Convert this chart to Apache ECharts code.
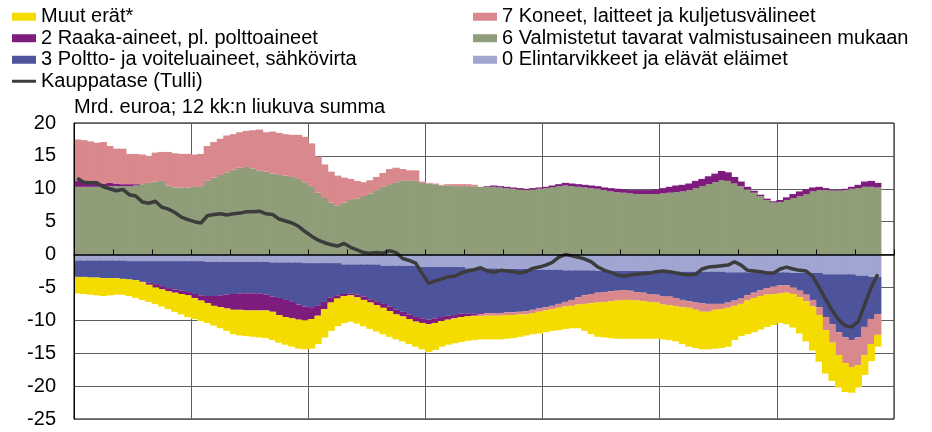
<!DOCTYPE html>
<html>
<head>
<meta charset="utf-8">
<script src="https://cdn.jsdelivr.net/npm/echarts@6/dist/echarts.min.js"></script>
<style>
  html, body { margin: 0; padding: 0; background: #fff; }
  #chart { width: 932px; height: 432px; }
</style>
</head>
<body>
<div id="chart"></div>
<script>
// kahden kuukauden välein, 2003/01 ... 2023/11 (viimeiset kaksi tyhjiä)
const categories = []
for (let y = 2003; y <= 2023; y++) {
    for (let m = 1; m <= 12; m += 2) {
        categories.push(y + '/' + (m < 10 ? '0' + m : m))
    }
}

const elintarvikkeet = [
    -0.9,-0.9,-0.9,-0.9,-0.9,-0.9,-0.9,-0.9,-1.0,-1.0,
    -1.0,-1.0,-1.0,-1.0,-1.0,-1.0,-1.0,-1.0,-1.0,-1.0,
    -1.1,-1.1,-1.1,-1.1,-1.1,-1.1,-1.1,-1.1,-1.1,-1.1,
    -1.2,-1.2,-1.2,-1.2,-1.2,-1.3,-1.3,-1.3,-1.3,-1.3,
    -1.3,-1.5,-1.5,-1.5,-1.5,-1.5,-1.5,-1.7,-1.7,-1.7,
    -1.7,-1.7,-1.7,-1.9,-1.9,-1.9,-1.9,-1.9,-1.9,-1.9,
    -2.1,-2.1,-2.1,-2.1,-2.1,-2.2,-2.2,-2.2,-2.2,-2.2,
    -2.3,-2.3,-2.3,-2.3,-2.3,-2.4,-2.4,-2.4,-2.4,-2.4,
    -2.5,-2.5,-2.5,-2.5,-2.5,-2.5,-2.5,-2.5,-2.5,-2.5,
    -2.6,-2.6,-2.6,-2.6,-2.6,-2.6,-2.6,-2.6,-2.6,-2.6,
    -2.7,-2.7,-2.7,-2.7,-2.7,-2.7,-2.7,-2.7,-2.7,-2.7,
    -2.8,-2.8,-2.8,-2.8,-2.8,-3.0,-3.0,-3.0,-3.0,-3.0,
    -3.2,-3.2,-3.4,-3.4
]

const polttoaineet = [
    -2.5,-2.5,-2.6,-2.6,-2.7,-2.7,-2.7,-2.8,-2.8,-2.9,
    -3.1,-3.3,-3.5,-3.8,-4.1,-4.3,-4.5,-4.7,-5.0,-5.2,
    -5.2,-5.2,-5.1,-5.0,-4.9,-4.8,-4.8,-4.8,-4.8,-5.0,
    -5.2,-5.4,-5.7,-6.0,-6.4,-6.6,-6.7,-6.5,-5.9,-5.2,
    -4.9,-4.5,-4.4,-4.6,-4.9,-5.3,-5.6,-5.8,-6.2,-6.7,
    -7.0,-7.4,-7.8,-7.8,-8.0,-7.8,-7.6,-7.4,-7.3,-7.1,
    -6.9,-6.9,-6.8,-6.8,-6.8,-6.7,-6.6,-6.6,-6.5,-6.4,
    -6.1,-5.9,-5.7,-5.5,-5.2,-4.8,-4.5,-4.1,-3.8,-3.6,
    -3.3,-3.2,-3.1,-3.0,-2.9,-3.0,-3.2,-3.3,-3.5,-3.6,
    -3.7,-3.8,-4.0,-4.3,-4.5,-4.7,-4.8,-4.9,-4.9,-4.9,
    -4.6,-4.3,-4.0,-3.5,-3.1,-2.7,-2.4,-2.2,-2.0,-2.0,
    -2.2,-2.7,-3.3,-4.1,-5.2,-6.5,-7.6,-8.8,-9.6,-10.0,
    -9.4,-7.8,-6.4,-5.7
]

const valmistetut = [
    10.3,10.3,10.3,10.3,10.3,10.4,10.4,10.4,10.4,10.5,
    10.7,10.9,11.1,11.2,10.5,10.2,10.2,10.2,10.3,10.4,
    11.2,11.7,12.1,12.5,12.9,13.2,13.3,13.1,12.8,12.6,
    12.3,12.1,12.0,11.8,11.5,11.0,10.4,9.4,8.6,7.9,
    7.5,7.9,8.3,8.5,8.9,9.3,9.8,10.3,10.7,11.0,
    11.2,11.3,11.2,10.9,10.8,10.7,10.5,10.5,10.4,10.4,
    10.4,10.3,10.3,10.3,10.3,10.2,10.1,10.0,9.9,9.8,
    9.9,10.0,10.1,10.2,10.4,10.5,10.4,10.3,10.2,10.1,
    10.0,9.8,9.6,9.5,9.4,9.3,9.2,9.2,9.2,9.2,
    9.3,9.4,9.5,9.6,9.8,10.1,10.4,10.7,11.0,11.3,
    11.2,10.8,10.4,9.9,9.4,8.9,8.3,7.9,8.0,8.3,
    8.6,8.9,9.2,9.6,9.8,9.8,9.7,9.7,9.8,10.0,
    10.1,10.3,10.3,10.2
]

const raakaAineet = [
    0.9,0.8,0.7,0.6,0.5,0.5,0.4,0.3,0.3,0.2,
    -0.1,-0.3,-0.5,-0.5,-0.5,-0.5,-0.5,-0.5,-0.6,-0.8,
    -1.1,-1.5,-1.8,-2.1,-2.4,-2.5,-2.6,-2.6,-2.6,-2.4,
    -2.3,-2.6,-2.6,-2.5,-2.3,-2.1,-1.8,-1.5,-1.1,-0.8,
    -0.5,-0.3,-0.3,-0.4,-0.5,-0.5,-0.6,-0.6,-0.7,-0.7,
    -0.7,-0.7,-0.7,-0.7,-0.7,-0.7,-0.6,-0.6,-0.5,-0.5,
    -0.4,-0.3,-0.2,0.1,0.2,0.2,0.2,0.2,0.2,0.2,
    0.2,0.2,0.2,0.3,0.3,0.4,0.4,0.4,0.4,0.4,
    0.4,0.4,0.5,0.5,0.5,0.5,0.6,0.6,0.6,0.7,
    0.8,0.9,1.0,1.0,1.0,1.1,1.1,1.2,1.3,1.4,
    1.3,1.0,0.7,0.4,0.3,0.2,0.2,0.2,0.3,0.4,
    0.6,0.7,0.7,0.6,0.5,0.3,0.1,0.1,0.2,0.3,
    0.5,0.8,0.9,0.7
]

const koneet = [
    6.3,6.3,6.2,6.1,6.3,5.6,5.3,5.4,4.6,4.6,
    4.5,4.1,4.4,4.4,5.1,5.2,5.1,5.1,4.9,4.9,
    5.3,5.4,5.5,5.6,5.4,5.4,5.5,5.8,6.2,6.0,
    6.4,6.4,6.3,6.4,6.7,6.9,6.5,5.5,5.1,4.7,
    4.5,3.8,3.2,2.7,2.1,2.0,2.0,2.1,2.3,2.2,
    1.8,1.5,1.6,0.2,0.1,0.1,0.1,0.2,0.3,0.3,
    0.3,0.3,-0.3,-0.4,-0.4,-0.4,-0.4,-0.4,-0.4,-0.5,
    -0.5,-0.5,-0.5,-0.5,-0.6,-0.7,-0.9,-1.1,-1.3,-1.4,
    -1.5,-1.5,-1.5,-1.5,-1.5,-1.4,-1.3,-1.3,-1.2,-1.2,
    -1.3,-1.3,-1.3,-1.1,-1.0,-1.1,-1.3,-1.2,-0.9,-0.8,
    -0.8,-0.8,-0.8,-0.8,-0.8,-0.9,-1.0,-1.1,-1.2,-1.1,
    -1.0,-1.0,-1.0,-1.0,-1.2,-2.0,-2.8,-3.5,-3.9,-4.1,
    -4.2,-4.3,-3.8,-3.1
]

const muutErat = [
    -2.5,-2.6,-2.6,-2.7,-2.7,-2.6,-2.5,-2.4,-2.5,-2.7,
    -2.7,-2.6,-2.5,-2.6,-2.7,-2.9,-3.1,-3.3,-3.2,-3.1,
    -3.0,-3.0,-3.2,-3.4,-3.7,-3.9,-3.9,-4.0,-4.1,-4.2,
    -4.3,-4.2,-4.2,-4.3,-4.4,-4.4,-4.5,-4.3,-4.3,-4.3,
    -4.2,-4.1,-4.0,-4.0,-4.0,-4.0,-4.0,-4.0,-3.9,-3.8,
    -3.8,-3.8,-3.8,-4.0,-4.2,-4.1,-3.9,-3.8,-3.8,-3.8,
    -3.7,-3.7,-3.5,-3.6,-3.6,-3.6,-3.6,-3.5,-3.4,-3.2,
    -3.2,-3.3,-3.3,-3.3,-3.4,-3.4,-3.4,-3.6,-4.1,-4.7,
    -5.2,-5.4,-5.6,-5.8,-5.9,-5.9,-5.8,-5.7,-5.6,-5.5,
    -5.3,-5.3,-5.3,-5.6,-5.9,-5.8,-5.7,-5.7,-5.9,-5.9,
    -5.9,-5.2,-4.9,-5.1,-5.2,-5.1,-4.9,-4.7,-4.5,-4.8,
    -5.1,-5.5,-6.1,-6.7,-7.1,-6.6,-5.8,-4.9,-4.4,-3.9,
    -3.4,-3.0,-2.6,-1.8
]

const kauppatase = [
    11.6,11.0,10.9,10.9,10.3,10.0,9.7,9.9,9.1,8.9,
    8.0,7.8,8.1,7.2,6.9,6.4,5.7,5.3,5.0,4.8,
    5.9,6.1,6.2,6.0,6.2,6.3,6.5,6.5,6.6,6.2,
    6.1,5.4,5.1,4.8,4.3,3.5,2.8,2.2,1.8,1.5,
    1.3,1.7,1.1,0.7,0.3,0.2,0.3,0.2,0.6,0.3,
    -0.6,-0.9,-1.3,-2.9,-4.4,-4.0,-3.7,-3.4,-3.3,-2.8,
    -2.5,-2.3,-2.0,-2.5,-2.7,-2.4,-2.5,-2.6,-2.8,-2.6,
    -2.1,-1.9,-1.6,-1.2,-0.4,0.0,-0.2,-0.4,-0.7,-1.1,
    -1.9,-2.4,-2.7,-3.1,-3.3,-3.1,-3.0,-2.9,-2.8,-2.6,
    -2.5,-2.6,-2.8,-3.0,-3.1,-3.0,-2.2,-1.9,-1.8,-1.7,
    -1.6,-1.1,-1.6,-2.4,-2.5,-2.6,-2.8,-2.8,-2.2,-1.9,
    -2.2,-2.4,-2.5,-3.3,-5.0,-6.8,-8.5,-9.9,-10.8,-11.0,
    -10.2,-7.6,-5.0,-3.0
]

const FONT = "'Liberation Sans', Arial, sans-serif"
const GRID_COLOR = '#5e5e5e'
const LINE_COLOR = '#3c3c3c'

const barSeries = [
    { name: '0 Elintarvikkeet ja elävät eläimet', data: elintarvikkeet, color: '#a1a5d1' },
    { name: '3 Poltto- ja voiteluaineet, sähkövirta', data: polttoaineet, color: '#4e549c' },
    { name: '6 Valmistetut tavarat valmistusaineen mukaan', data: valmistetut, color: '#8f9d78' },
    { name: '2 Raaka-aineet, pl. polttoaineet', data: raakaAineet, color: '#7e1c7e' },
    { name: '7 Koneet, laitteet ja kuljetusvälineet', data: koneet, color: '#d9898d' },
    { name: 'Muut erät*', data: muutErat, color: '#f5dc00' }
]

const legendCommon = {
    orient: 'vertical',
    top: 6,
    padding: 0,
    itemWidth: 24,
    itemHeight: 8,
    itemGap: 0,
    textStyle: { fontFamily: FONT, fontSize: 20, lineHeight: 21.5, color: '#000' }
}

const option = {
    animation: false,
    textStyle: { fontFamily: FONT },
    title: {
        text: 'Mrd. euroa; 12 kk:n liukuva summa',
        left: 74,
        top: 97,
        padding: 0,
        textStyle: { fontFamily: FONT, fontSize: 20, fontWeight: 'normal', color: '#000' }
    },
    legend: [
        {
            ...legendCommon,
            left: 12,
            data: [
                { name: 'Muut erät*', icon: 'rect' },
                { name: '2 Raaka-aineet, pl. polttoaineet', icon: 'rect' },
                { name: '3 Poltto- ja voiteluaineet, sähkövirta', icon: 'rect' },
                { name: 'Kauppatase (Tulli)', icon: 'path://M0,0h24v3h-24z', itemStyle: { color: LINE_COLOR } }
            ]
        },
        {
            ...legendCommon,
            left: 473,
            data: [
                { name: '7 Koneet, laitteet ja kuljetusvälineet', icon: 'rect' },
                { name: '6 Valmistetut tavarat valmistusaineen mukaan', icon: 'rect' },
                { name: '0 Elintarvikkeet ja elävät eläimet', icon: 'rect' }
            ]
        }
    ],
    grid: {
        left: 74,
        right: 38,
        top: 123,
        bottom: 13,
        show: true,
        borderColor: '#000',
        borderWidth: 1,
        backgroundColor: 'transparent'
    },
    xAxis: [
        {
            type: 'category',
            data: categories,
            boundaryGap: true,
            axisLine: { show: false },
            axisTick: { show: false },
            axisLabel: { show: false },
            splitLine: { show: true, interval: 17, lineStyle: { color: GRID_COLOR, width: 1 } }
        },
        {
            type: 'category',
            data: categories,
            position: 'bottom',
            boundaryGap: true,
            z: 5,
            axisLine: { show: true, onZero: true, lineStyle: { color: '#000', width: 1.5 } },
            axisTick: { show: true, interval: 5, inside: true, length: 5, lineStyle: { color: '#000' } },
            axisLabel: { show: false },
            splitLine: { show: false }
        }
    ],
    yAxis: [
        {
            type: 'value',
            min: -25,
            max: 20,
            interval: 5,
            axisLine: { show: false },
            axisTick: { show: false },
            axisLabel: { show: false },
            splitLine: { show: true, lineStyle: { color: GRID_COLOR, width: 1 } }
        },
        {
            type: 'value',
            min: -25,
            max: 20,
            interval: 5,
            position: 'left',
            z: 5,
            axisLine: { show: true, lineStyle: { color: '#000', width: 1 } },
            axisTick: { show: false },
            axisLabel: { fontFamily: FONT, fontSize: 20, color: '#000', margin: 18 },
            splitLine: { show: false }
        }
    ],
    series: [
        ...barSeries.map(s => ({
            name: s.name,
            type: 'bar',
            stack: 'total',
            data: s.data,
            barWidth: 7.4,
            itemStyle: { color: s.color },
            emphasis: { disabled: true }
        })),
        {
            name: 'Kauppatase (Tulli)',
            type: 'line',
            data: kauppatase,
            symbol: 'none',
            z: 4,
            itemStyle: { color: LINE_COLOR },
            lineStyle: { color: LINE_COLOR, width: 3.5 }
        }
    ]
}

const chart = echarts.init(document.getElementById('chart'))
chart.setOption(option)
</script>
</body>
</html>
